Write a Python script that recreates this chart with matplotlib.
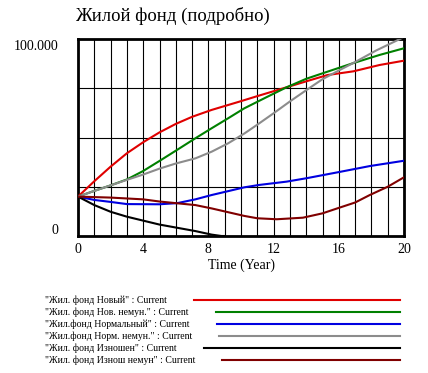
import numpy as np
import matplotlib
matplotlib.use("Agg")
import matplotlib.pyplot as plt
from matplotlib.lines import Line2D

plt.rcParams['font.family'] = ['Liberation Serif', 'DejaVu Serif']

title = "Жилой фонд (подробно)"
xlabel = "Time (Year)"

# values (years, units)
t_red = [0, 1, 2, 3, 4, 5, 6, 7, 8.2, 9.9, 11, 12.8, 14, 15.3, 16.9, 18.5, 20]
v_red = [20000, 27800, 35200, 42000, 47600, 52600, 56900, 60500, 64000, 68200, 71000, 75500, 78500, 81700, 83600, 86800, 89000]

t_green = [0, 1, 2, 3, 4, 5, 6, 7.2, 8.2, 9.2, 10.2, 11.5, 12.8, 14, 15.3, 16.9, 18.5, 20]
v_green = [20000, 22900, 25700, 28700, 33000, 38100, 43300, 49600, 54700, 59700, 64800, 70200, 75500, 79800, 83400, 87800, 91900, 95300]

t_gray = [0, 1, 2, 3, 4, 5, 6, 7.2, 8.2, 9.2, 10.2, 11, 12, 13, 14, 15, 16, 17, 18.3, 20]
v_gray = [20000, 22900, 25700, 28500, 31200, 34200, 36800, 39400, 42800, 47000, 52000, 56500, 62300, 68300, 74000, 79600, 84000, 88300, 94200, 101000]

t_blue = [0, 1, 2, 3, 5, 6.1, 7.2, 8.2, 10.2, 11.1, 12.8, 14, 16.1, 17.9, 20]
v_blue = [20000, 18300, 17300, 16200, 16100, 16700, 18600, 20800, 24700, 25900, 27600, 29300, 32600, 35500, 38200]

t_dred = [0, 2, 4, 5, 6.1, 7.2, 8.2, 10.2, 11, 12.2, 13.8, 15, 15.9, 17, 17.9, 19, 20]
v_dred = [20000, 19500, 18600, 17500, 16600, 15700, 14000, 10200, 9000, 8500, 9300, 11500, 14000, 17000, 20800, 25000, 29800]

t_black = [0, 1, 2, 3, 4, 5, 6, 7.2, 8.2, 8.8, 9.0]
v_black = [20000, 15700, 12300, 9800, 7800, 5800, 4300, 2500, 700, 0, 0]

legend_labels = [
    '"Жил. фонд Новый" : Current',
    '"Жил. фонд Нов. немун." : Current',
    '"Жил.фонд Нормальный" : Current',
    '"Жил.фонд Норм. немун." : Current',
    '"Жил. фонд Изношен" : Current',
    '"Жил. фонд Изнош немун" : Current',
]

series = [
    (t_red, v_red, '#e00000'),
    (t_green, v_green, '#008000'),
    (t_blue, v_blue, '#0000e0'),
    (t_gray, v_gray, '#8c8c8c'),
    (t_black, v_black, '#000000'),
    (t_dred, v_dred, '#800000'),
]

fig = plt.figure(figsize=(4.28, 3.73), dpi=100)
ax = fig.add_axes([78/428, 1-236/373, (404-78)/428, (236-39)/373])

for t, v, c in series:
    ax.plot(t, v, color=c, lw=1.5, zorder=3, solid_joinstyle='round')

ax.set_xlim(0, 20)
ax.set_ylim(0, 100000)
ax.set_xticks(np.arange(0, 21, 1), minor=True)
ax.set_xticks([0, 4, 8, 12, 16, 20])
ax.set_yticks([0, 25000, 50000, 75000, 100000])
ax.set_yticklabels([])
ax.tick_params(axis='both', which='both', length=0)
ax.tick_params(axis='x', labelsize=10, pad=5)
ax.grid(True, which='both', color='black', lw=0.8)
for s in ax.spines.values():
    s.set_linewidth(2)
ax.set_xlabel(xlabel, fontsize=10, labelpad=2)

fig.text(58/428, 1-46/373, "100.000", ha='right', va='center', fontsize=10)
fig.text(58/428, 1-231/373, "0", ha='right', va='center', fontsize=10)
fig.text(75/428, 1-16/373, title, ha='left', va='center', fontsize=13.5)

# legend below the chart
fig.canvas.draw()
renderer = fig.canvas.get_renderer()
for i, (lab, (t, v, c)) in enumerate(zip(legend_labels, series)):
    y = 1 - (300 + 12*i)/373
    txt = fig.text(45/428, y, lab, ha='left', va='center', fontsize=7)
    bb = txt.get_window_extent(renderer)
    x0 = (bb.x1 + 27) / 428
    fig.add_artist(Line2D([x0, 400/428], [y, y], color=c, lw=1.5,
                          transform=fig.transFigure))

fig.savefig("out.png", dpi=100)
